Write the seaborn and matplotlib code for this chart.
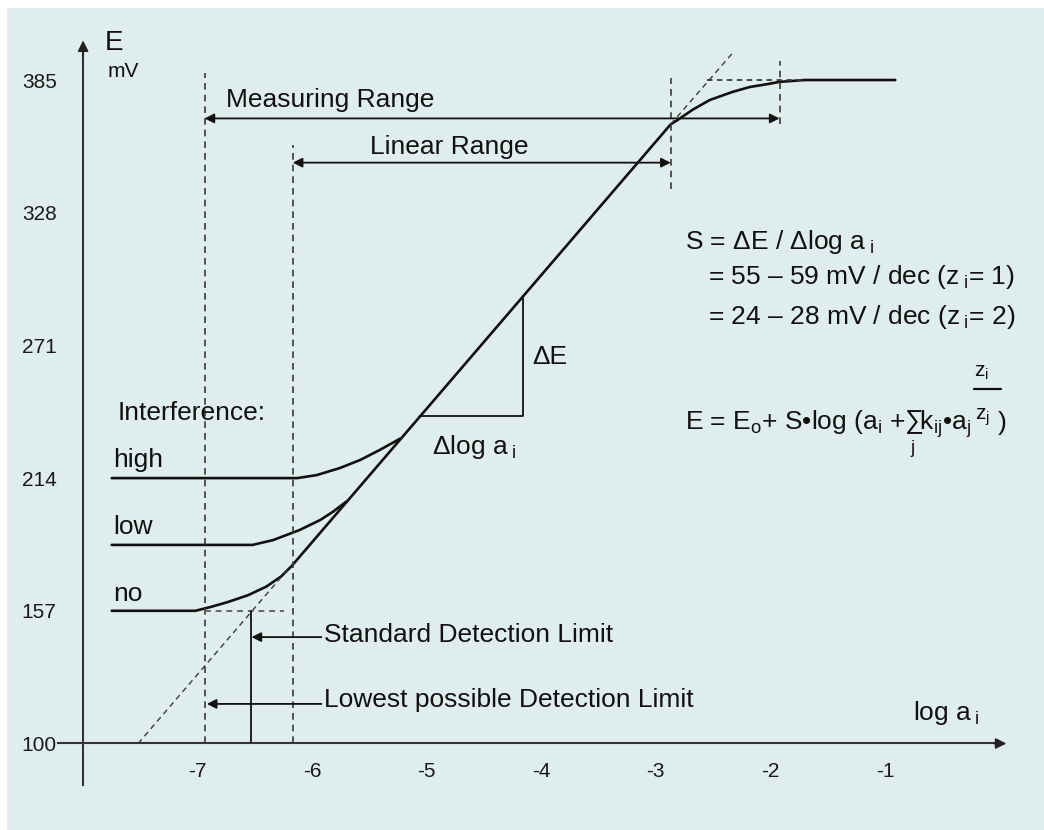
import matplotlib
matplotlib.use("Agg")
import matplotlib.pyplot as plt
import seaborn as sns
import numpy as np
import pandas as pd
from matplotlib.patches import Rectangle

# ---------------- data ----------------
x_ticks = [-7, -6, -5, -4, -3, -2, -1]
x_tick_labels = ["-7", "-6", "-5", "-4", "-3", "-2", "-1"]
y_ticks = [100, 157, 214, 271, 328, 385]
y_tick_labels = ["100", "157", "214", "271", "328", "385"]

# electrode response without interference (log a_i, E in mV)
no_x = [-7.75, -7.02, -6.89, -6.74, -6.56, -6.40, -6.27, -6.18,
        -2.87, -2.82, -2.68, -2.53, -2.33, -2.18, -2.03, -1.92, -1.7, -0.91]
no_E = [157, 157, 158.6, 160.7, 163.7, 167.4, 171.8, 176.2,
        366, 367.5, 372.2, 376.4, 379.9, 382.0, 383.2, 384.2, 385, 385]
# low interference
low_x = [-7.75, -6.52, -6.34, -6.11, -5.93, -5.82, -5.70]
low_E = [185.3, 185.3, 187.4, 191.7, 196.0, 199.5, 204.0]
# high interference
high_x = [-7.75, -6.13, -5.96, -5.76, -5.58, -5.41, -5.23]
high_E = [214, 214, 215.3, 218.3, 221.8, 226.1, 231.0]

# extrapolations of the linear part (dashed)
ext_low_x = [-7.52, -6.2]
ext_low_E = [100, 175.5]
ext_high_x = [-2.87, -2.33]
ext_high_E = [366, 396.6]

# slope triangle
tri_x = [-5.06, -4.16, -4.16]
tri_E = [240.6, 240.6, 292.1]

# range limits
lowest_dl = -6.94
standard_dl = -6.53
linear_lo = -6.17
linear_hi = -2.87
measuring_hi = -1.92
E_low_level = 157
E_high_level = 385

# ---------------- style ----------------
sns.set_theme(style="white")
plt.rcParams["font.family"] = ["Liberation Sans", "DejaVu Sans"]
plt.rcParams["axes.unicode_minus"] = False
plt.rcParams["mathtext.fontset"] = "custom"
plt.rcParams["mathtext.rm"] = "Liberation Sans"
plt.rcParams["mathtext.it"] = "Liberation Sans"
plt.rcParams["mathtext.sf"] = "Liberation Sans"
plt.rcParams["mathtext.bf"] = "Liberation Sans:bold"

W, H = 1044, 830
fig = plt.figure(figsize=(W / 100, H / 100), dpi=100, facecolor="white")
fig.patches.append(Rectangle((7 / W, 0), 1 - 7 / W, (H - 8) / H, transform=fig.transFigure,
                             facecolor="#e0eded", edgecolor="none", zorder=-10))
ax = fig.add_axes([0, 0, 1, 1])
ax.set_facecolor("none")
ax.set_xlim(-8.7255, 0.3885)
ax.set_ylim(62.84, 419.37)

INK = "#111111"
DASH = "#3a3a3a"
lw_main = 1.9

# ---------------- curves ----------------
for xs, es in [(no_x, no_E), (low_x, low_E), (high_x, high_E)]:
    sns.lineplot(x=xs, y=es, ax=ax, color=INK, lw=lw_main, sort=False, estimator=None)

for xs, es in [(ext_low_x, ext_low_E), (ext_high_x, ext_high_E)]:
    sns.lineplot(x=xs, y=es, ax=ax, color=DASH, lw=1.0, sort=False, estimator=None,
                 dashes=False, linestyle=(0, (4, 3)))

sns.lineplot(x=tri_x, y=tri_E, ax=ax, color=INK, lw=1.3, sort=False, estimator=None)

# dashed guide lines
ax.plot([lowest_dl, lowest_dl], [100, 388], color=DASH, lw=1.2, ls=(0, (4, 3)))
ax.plot([linear_lo, linear_lo], [100, 357], color=DASH, lw=1.2, ls=(0, (4, 3)))
ax.plot([linear_hi, linear_hi], [338, 386], color=DASH, lw=1.2, ls=(0, (4, 3)))
ax.plot([measuring_hi, measuring_hi], [366, 393], color=DASH, lw=1.2, ls=(0, (4, 3)))
ax.plot([lowest_dl, -6.25], [E_low_level, E_low_level], color="#666666", lw=1.4, ls=(0, (3, 2.5)))
ax.plot([-2.55, -1.7], [E_high_level, E_high_level], color=DASH, lw=1.3, ls=(0, (3, 2.5)))
# standard detection limit vertical
ax.plot([standard_dl, standard_dl], [100, E_low_level], color=INK, lw=1.3)

# range arrows
arr2 = dict(arrowstyle="<|-|>", color=INK, lw=1.3, mutation_scale=14, shrinkA=0, shrinkB=0)
ax.annotate("", xy=(measuring_hi, 368.5), xytext=(lowest_dl, 368.5), arrowprops=arr2)
ax.annotate("", xy=(linear_hi, 349.5), xytext=(linear_lo, 349.5), arrowprops=arr2)
arr1 = dict(arrowstyle="-|>", color=INK, lw=1.3, mutation_scale=14, shrinkA=0, shrinkB=0)
ax.annotate("", xy=(standard_dl, 145.7), xytext=(-5.92, 145.7), arrowprops=arr1)
ax.annotate("", xy=(lowest_dl + 0.02, 117), xytext=(-5.92, 117), arrowprops=arr1)

# ---------------- axes ----------------
for s in ["top", "right"]:
    ax.spines[s].set_visible(False)
ax.spines["left"].set_position(("data", -8))
ax.spines["bottom"].set_position(("data", 100))
ax.spines["left"].set_bounds(82, 398)
ax.spines["bottom"].set_bounds(-8.22, 0.0)
for s in ["left", "bottom"]:
    ax.spines[s].set_color("#333333")
    ax.spines[s].set_linewidth(1.5)
ax.annotate("", xy=(-8, 402), xytext=(-8, 395), arrowprops=dict(arrowstyle="-|>", color="#222222",
            lw=1.2, mutation_scale=16, shrinkA=0, shrinkB=0))
ax.annotate("", xy=(0.06, 100), xytext=(-0.05, 100), arrowprops=dict(arrowstyle="-|>", color="#222222",
            lw=1.2, mutation_scale=16, shrinkA=0, shrinkB=0))

ax.set_xticks(x_ticks)
ax.set_xticklabels(x_tick_labels)
ax.set_yticks(y_ticks)
ax.set_yticklabels(y_tick_labels)
ax.tick_params(axis="both", direction="inout", length=6, width=1.2, color="#333333",
               labelsize=15, labelcolor="#1a1a1a")
ax.tick_params(axis="y", pad=16)
ax.tick_params(axis="x", pad=10)
ax.grid(False)

# ---------------- texts ----------------
FS = 19
def txt(x, y, s, size=FS, **kw):
    kw.setdefault("va", "center")
    return ax.text(x, y, s, fontsize=size, color=INK, ha="left", **kw)

txt(-7.808, 401, "E", size=20)
txt(-7.79, 388.5, "mV", size=15)
txt(-6.752, 376.4, "Measuring Range")
txt(-5.494, 356.2, "Linear Range")
txt(-2.745, 315.4, r"S = ΔE / Δlog a$_{\;\mathrm{i}}$")
txt(-2.544, 300.4, r"= 55 – 59 mV / dec (z$_{\;\mathrm{i}}$= 1)")
txt(-2.544, 283.2, r"= 24 – 28 mV / dec (z$_{\;\mathrm{i}}$= 2)")

# Nernst-Nikolsky equation, with the exponent fraction laid out by hand
EQ_BASE = 234.7
t_eq = txt(-2.745, EQ_BASE, r"E = E$_\mathrm{o}$+ S•log (a$_\mathrm{i}$ +$\sum_\mathrm{j}$k$_\mathrm{ij}$•a$_\mathrm{j}$",
           va="baseline")
fig.canvas.draw()
bb = t_eq.get_window_extent()
inv = ax.transData.inverted()
x_end = inv.transform((bb.x1, 0))[0]
dx_px = 1.0 / 114.55  # data units per pixel (x)
fx = x_end + 3 * dx_px
ax.text(fx, 259.2, r"z$_\mathrm{i}$", fontsize=15, color=INK, va="center", ha="left")
ax.plot([fx, fx + 27 * dx_px], [252.3, 252.3], color=INK, lw=1.6)
ax.text(fx + 1 * dx_px, 239.0, r"z$_\mathrm{j}$", fontsize=15, color=INK, va="baseline", ha="left")
ax.text(fx + 23 * dx_px, EQ_BASE, ")", fontsize=FS, color=INK, va="baseline", ha="left")

txt(-4.08, 266, "ΔE")
txt(-4.955, 227.4, r"Δlog a$_{\;\mathrm{i}}$")
txt(-7.70, 242, "Interference:")
txt(-7.74, 221.8, "high")
txt(-7.74, 193, "low")
txt(-7.74, 164.2, "no")
txt(-5.90, 146.6, "Standard Detection Limit")
txt(-5.90, 118.7, "Lowest possible Detection Limit")
txt(-0.755, 113.1, r"log a$_{\;\mathrm{i}}$")

fig.savefig("out.png", dpi=100, facecolor="white")
